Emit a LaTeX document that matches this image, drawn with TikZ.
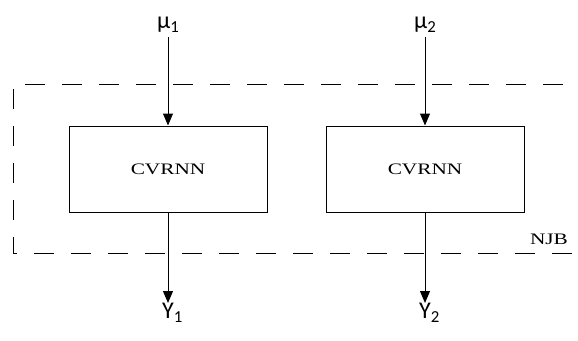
\documentclass[tikz,border=0pt]{standalone}
\usepackage{fontspec}
\usepackage{graphicx}
\setmainfont{Carlito}
\newfontfamily\boxfont{Liberation Serif}
\newcommand{\wide}[1]{\scalebox{1.33}[1]{\boxfont\fontsize{16}{18}\selectfont #1}}
\usetikzlibrary{arrows.meta}
\begin{document}
\begin{tikzpicture}[x=1pt,y=-1pt,
  cell/.style={draw,line width=1pt,minimum width=198pt,minimum height=86pt,inner sep=0pt},
  lab/.style={inner sep=0pt,font=\fontsize{24}{28}\selectfont},
  arr/.style={line width=1pt,-{Triangle[width=10pt,length=12pt]}},
  frame/.style={line width=1pt,dash pattern=on 20pt off 17pt}]
\useasboundingbox (0,0) rectangle (578,340);
\clip (0,0) rectangle (578,340);
\node[cell] (b1) at (168,169) {\wide{CVRNN}};
\node[cell] (b2) at (425,169) {\wide{CVRNN}};
\node[lab,anchor=south west] (m1) at (157,33) {μ\textsubscript{1}};
\node[lab,anchor=south west] (m2) at (414,33) {μ\textsubscript{2}};
\node[lab,anchor=north west] (y1) at (162,303) {Y\textsubscript{1}};
\node[lab,anchor=north west] (y2) at (419,303) {Y\textsubscript{2}};
\node[inner sep=0pt] (njb) at (549,239) {\wide{NJB}};
\coordinate (fa) at (600,84);
\coordinate (fb) at (13,84);
\coordinate (fc) at (13,253);
\coordinate (fd) at (600,253);
\draw[frame] (fa) -- (fb) -- (fc) -- (fd);
\draw[arr] (b1.north |- m1.south) ++(0,4) -- (b1.north);
\draw[arr] (b2.north |- m2.south) ++(0,4) -- (b2.north);
\draw[arr] (b1.south) -- (b1.south |- y1.north);
\draw[arr] (b2.south) -- (b2.south |- y2.north);
\end{tikzpicture}
\end{document}
